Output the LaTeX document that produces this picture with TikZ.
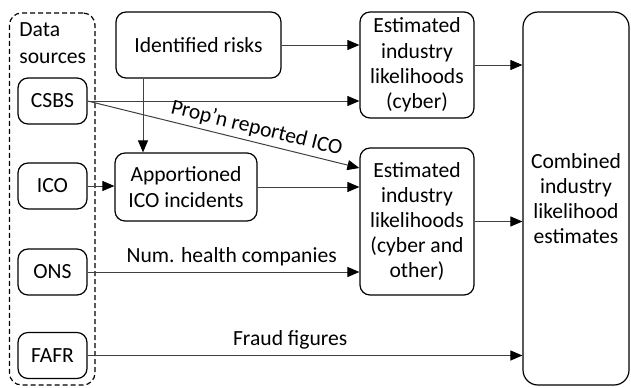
\documentclass[tikz,border=0pt]{standalone}
\usepackage{fontspec}
\setmainfont{Carlito}
\usepackage{tikz}
\usetikzlibrary{positioning,arrows.meta}

\begin{document}
\begin{tikzpicture}[x=0.5pt, y=-0.5pt,
  every node/.style = {font=\fontsize{10.8pt}{12.6pt}\selectfont, align=center},
  box/.style = {shape=rectangle, rounded corners=5pt, draw=black, line width=0.6pt,
	inner sep=0pt},
  src/.style = {box, minimum width=34.5pt, minimum height=23pt},
  flow/.style = {draw=black!75, line width=0.5pt,
	-{Triangle[length=6pt, width=5pt, color=black]}}]

\useasboundingbox (0,0) rectangle (631,387);

\node[box, dash pattern=on 2.5pt off 1.5pt, rounded corners=6pt,
	 minimum width=42.75pt, minimum height=186pt] (sources) at (52.25,199) {};
\node[anchor=north west, align=left, inner sep=0pt,
	 font=\fontsize{10.8pt}{13.5pt}\selectfont] (srclabel) at (19,22) {Data\\sources};

\node[src] (csbs) at (52.5,101) {CSBS};
\node[src] (ico)  at (52.5,186) {ICO};
\node[src] (ons)  at (52.5,272) {ONS};
\node[src] (fafr) at (52.5,355.5) {FAFR};

\node[box, minimum width=82.5pt, minimum height=33pt] (risks) at (198.5,45)
	 {Identified risks};
\node[box, minimum width=71pt, minimum height=34pt] (apport) at (186,187)
	 {Apportioned\\ICO incidents};
\node[box, minimum width=57pt, minimum height=53pt] (cyber) at (417,65)
	 {Estimated\\industry\\likelihoods\\(cyber)};
\node[box, minimum width=57pt, minimum height=73.5pt] (other) at (417,221.5)
	 {Estimated\\industry\\likelihoods\\(cyber and\\other)};
\node[box, rounded corners=7.5pt, minimum width=53pt, minimum height=186.5pt]
	 (combined) at (576,198.5)
	 {Combined\\industry\\likelihood\\estimates};

\draw[flow] (risks.east) -- (risks.east -| cyber.west);
\draw[flow] (csbs.east) -- (csbs.east -| cyber.west);
\draw[flow] (csbs.east) -- ([yshift=26.75pt]other.west)
	 node[sloped, above, pos=0.61, inner sep=2pt] (iconote) {Prop’n reported ICO};
\draw[flow] ([xshift=-27.75pt]risks.south) -- ([xshift=-27.75pt]risks.south |- apport.north);
\draw[flow] (ico.east) -- (ico.east -| apport.west);
\draw[flow] (apport.east) -- (apport.east -| other.west);
\draw[flow] (ons.east) -- (ons.east -| other.west)
	 node[above, pos=0.53, inner sep=3pt] (onsnote) {Num. health companies};
\draw[flow] (cyber.east) -- (cyber.east -| combined.west);
\draw[flow] (other.east) -- (other.east -| combined.west);
\draw[flow] (fafr.east) -- (fafr.east -| combined.west)
	 node[above, pos=0.466, inner sep=3pt] (fraudnote) {Fraud figures};
\end{tikzpicture}
\end{document}
